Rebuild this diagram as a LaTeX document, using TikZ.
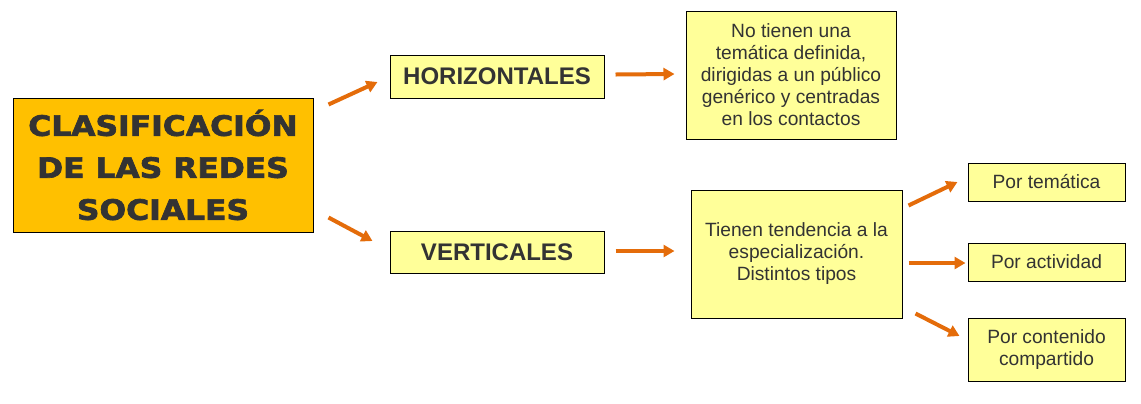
\documentclass[tikz,border=0pt]{standalone}
\usepackage{fontspec}
\setmainfont{Liberation Sans}
\newfontfamily\heavyfont{DejaVu Sans}[FakeStretch=1.12, FakeBold=2.5]
\usepackage{xcolor}
\usepackage{tikz}
\usetikzlibrary{arrows.meta, positioning, calc}
\definecolor{mainorange}{RGB}{255, 192, 0}
\definecolor{paleyellow}{RGB}{255, 255, 153}
\definecolor{arroworange}{RGB}{228, 108, 10}
\definecolor{darktext}{RGB}{51, 51, 51}
\tikzstyle{box} = [rectangle, draw=black, line width=0.5pt, fill=paleyellow, text=darktext, align=center, inner sep=2pt, font=\fontsize{9.6}{11}\selectfont]
\tikzstyle{arrow} = [line width=2pt, draw=arroworange, -{Triangle[length=5.5pt, width=6pt]}]

\begin{document}
\begin{tikzpicture}[x=0.5pt, y=-0.5pt]
\useasboundingbox (0,0) rectangle (1141,403);

\node[box, fill=mainorange, minimum width=150pt, minimum height=67pt, font=\heavyfont\bfseries\fontsize{14}{21}\selectfont] (clasif) at (163,165) {CLASIFICACIÓN\\DE LAS REDES\\SOCIALES};

\node[box, minimum width=107pt, minimum height=21.5pt, font=\bfseries\fontsize{12}{14}\selectfont] (horiz) at (497,76.5) {HORIZONTALES};
\node[box, minimum width=107pt, minimum height=21pt, font=\bfseries\fontsize{12}{14}\selectfont] (vert) at (497,252) {VERTICALES};

\node[box, minimum width=105pt, minimum height=64pt] (generico) at (791,75) {No tienen una\\temática definida,\\dirigidas a un público\\genérico y centradas\\en los contactos};
\node[box, minimum width=105.5pt, minimum height=64pt] (especial) at (796.5,254) {Tienen tendencia a la\\especialización.\\Distintos tipos};

\node[box, minimum width=78.5pt, minimum height=19pt] (tematica) at (1046.5,182) {Por temática};
\node[box, minimum width=78.5pt, minimum height=19pt] (actividad) at (1046.5,262) {Por actividad};
\node[box, minimum width=78.5pt, minimum height=31.5pt] (contenido) at (1046.5,349.5) {Por contenido\\compartido};

\draw[arrow] ($(clasif.north east)+(15,7)$) -- ($(horiz.west)+(-12,5.5)$);
\draw[arrow] ($(clasif.south east)+(15,-15)$) -- ($(vert.west)+(-17,-11)$);
\draw[arrow] ($(horiz.east)+(11,-2)$) -- ($(generico.west)+(-11,-1)$);
\draw[arrow] ($(vert.east)+(11,-1)$) -- ($(especial.west)+(-16,-3)$);
\draw[arrow] ($(especial.north east)+(6,16)$) -- ($(tematica.west)+(-10,0)$);
\draw[arrow] ($(especial.east |- actividad.west)+(6,1)$) -- ($(actividad.west)+(-2,1)$);
\draw[arrow] ($(especial.south east)+(13,-5)$) -- ($(contenido.west)+(-8,-13.5)$);

\end{tikzpicture}
\end{document}
